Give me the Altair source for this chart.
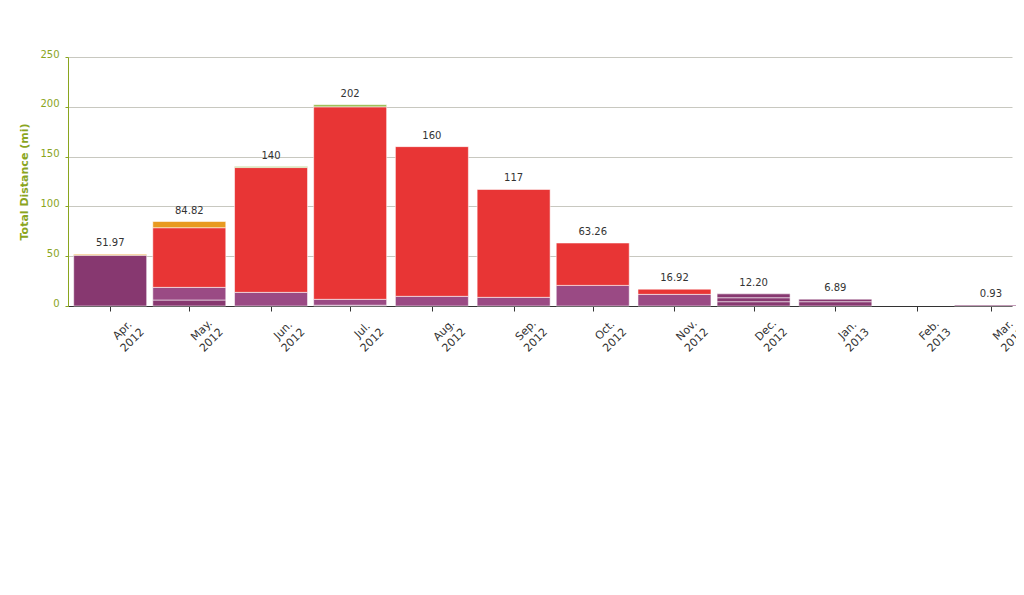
import altair as alt
import pandas as pd

# ---- data ----
seg_month = [
    "2012-04-01", "2012-04-01",
    "2012-05-01", "2012-05-01", "2012-05-01", "2012-05-01",
    "2012-06-01", "2012-06-01", "2012-06-01",
    "2012-07-01", "2012-07-01", "2012-07-01", "2012-07-01",
    "2012-08-01", "2012-08-01",
    "2012-09-01", "2012-09-01",
    "2012-10-01", "2012-10-01",
    "2012-11-01", "2012-11-01",
    "2012-12-01", "2012-12-01", "2012-12-01",
    "2013-01-01", "2013-01-01",
    "2013-03-01",
]
seg_type = [
    "Running", "Other",
    "Running", "Walking", "Cycling", "Other",
    "Walking", "Cycling", "Hiking",
    "Running", "Walking", "Cycling", "Hiking",
    "Walking", "Cycling",
    "Walking", "Cycling",
    "Walking", "Cycling",
    "Walking", "Cycling",
    "Running", "Running", "Running",
    "Running", "Running",
    "Running",
]
seg_value = [
    50.97, 1.0,
    6.0, 12.7, 59.9, 6.22,
    13.7, 125.3, 1.0,
    0.8, 5.9, 193.3, 2.0,
    9.7, 150.3,
    8.7, 108.3,
    20.7, 42.56,
    11.7, 5.22,
    4.3, 4.0, 3.9,
    4.3, 2.59,
    0.93,
]

total_month = ["2012-04-01", "2012-05-01", "2012-06-01", "2012-07-01", "2012-08-01",
               "2012-09-01", "2012-10-01", "2012-11-01", "2012-12-01", "2013-01-01",
               "2013-03-01"]
total_value = [51.97, 84.82, 140, 202, 160, 117, 63.26, 16.92, 12.20, 6.89, 0.93]
total_label = ["51.97", "84.82", "140", "202", "160", "117", "63.26", "16.92", "12.20", "6.89", "0.93"]

type_names = ["Running", "Walking", "Cycling", "Other", "Hiking"]
type_colors = ["#873870", "#9a4a84", "#e83535", "#e89a20", "#8db33a"]

seg_df = pd.DataFrame({
    "month": seg_month,
    "type": seg_type,
    "value": seg_value,
    "idx": list(range(len(seg_value))),
})
tot_df = pd.DataFrame({"month": total_month, "total": total_value, "label": total_label})

FONT = "DejaVu Sans"
GREEN = "#8aa51e"

x_scale = alt.Scale(
    type="utc",
    padding=0,
    domain=[alt.DateTime(year=2012, month=3, date=16, utc=True),
            alt.DateTime(year=2013, month=3, date=9, utc=True)],
)
tick_vals = [alt.DateTime(year=y, month=m, date=1, utc=True)
             for (y, m) in [(2012, 4), (2012, 5), (2012, 6), (2012, 7), (2012, 8), (2012, 9),
                            (2012, 10), (2012, 11), (2012, 12), (2013, 1), (2013, 2), (2013, 3)]]

x_axis = alt.Axis(
    values=tick_vals,
    labelExpr="[utcFormat(datum.value, '%b.'), utcFormat(datum.value, '%Y')]",
    labelAngle=-45,
    labelAlign="center",
    labelBaseline="middle",
    labelOffset=12,
    labelPadding=19,
    labelFont=FONT,
    labelFontSize=11,
    labelColor="#333333",
    labelLineHeight=14,
    labelOverlap=False,
    labelBound=False,
    tickColor="#333333",
    tickSize=5,
    domainColor="#333333",
    grid=False,
    title=None,
)

y_axis = alt.Axis(
    values=[0, 50, 100, 150, 200, 250],
    labelFont=FONT,
    labelFontSize=10,
    labelColor=GREEN,
    labelOffset=-3,
    labelPadding=6,
    tickColor=GREEN,
    tickSize=3,
    domainColor=GREEN,
    gridColor="#c8c8c0",
    title="Total Distance (mi)",
    titleFont=FONT,
    titleFontSize=11,
    titleFontWeight="bold",
    titleColor=GREEN,
    titlePadding=10,
)

bars = alt.Chart(seg_df).mark_bar(
    size=73, stroke="white", strokeOpacity=0.55, strokeWidth=1
).encode(
    x=alt.X("month:T", scale=x_scale, axis=x_axis),
    y=alt.Y("sum(value):Q", scale=alt.Scale(domain=[0, 250], nice=False), axis=y_axis, stack="zero"),
    color=alt.Color("type:N", scale=alt.Scale(domain=type_names, range=type_colors), legend=None),
    order=alt.Order("idx:Q"),
    detail="idx:N",
)

labels = alt.Chart(tot_df).mark_text(
    font=FONT, fontSize=10, color="#333333", baseline="bottom", dy=-6
).encode(
    x=alt.X("month:T", scale=x_scale),
    y=alt.Y("total:Q", scale=alt.Scale(domain=[0, 250], nice=False)),
    text="label:N",
)

chart = alt.layer(bars, labels).properties(
    width=944,
    height=249,
    autosize=alt.AutoSizeParams(type="none"),
    padding={"left": 60, "top": 49, "right": 4, "bottom": 60},
).configure_view(stroke=None)

chart.save("out.html", embed_options={"renderer": "svg", "actions": False})
